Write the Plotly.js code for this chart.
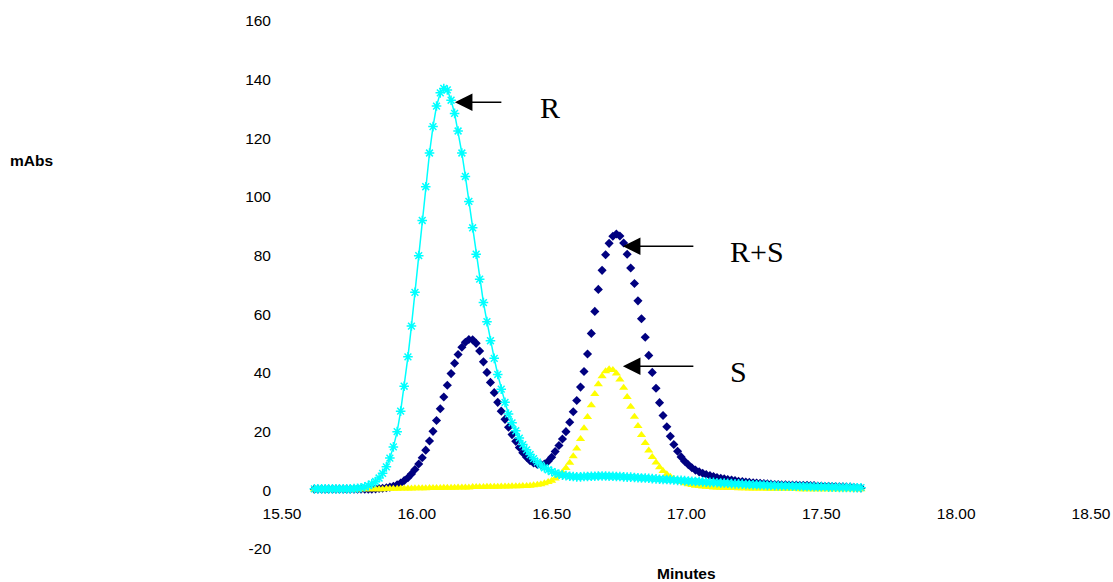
<!DOCTYPE html>
<html>
<head>
<meta charset="utf-8">
<script src="https://cdn.plot.ly/plotly-3.0.1.min.js"></script>
<style>html,body{margin:0;padding:0;background:#fff;}#chart{width:1113px;height:582px;}</style>
</head>
<body>
<div id="chart"></div>
<script>
// Retention time (minutes)
const minutes = [
15.620,15.633,15.647,15.660,15.673,15.687,15.700,15.713,15.727,15.740,
15.753,15.767,15.780,15.793,15.807,15.820,15.833,15.847,15.860,15.873,
15.887,15.900,15.913,15.927,15.940,15.953,15.967,15.980,15.993,16.007,
16.020,16.033,16.047,16.060,16.073,16.087,16.100,16.113,16.127,16.140,
16.153,16.167,16.180,16.193,16.207,16.220,16.233,16.247,16.260,16.273,
16.287,16.300,16.313,16.327,16.340,16.353,16.367,16.380,16.393,16.407,
16.420,16.433,16.447,16.460,16.473,16.487,16.500,16.513,16.527,16.540,
16.553,16.567,16.580,16.593,16.607,16.620,16.633,16.647,16.660,16.673,
16.687,16.700,16.713,16.727,16.740,16.753,16.767,16.780,16.793,16.807,
16.820,16.833,16.847,16.860,16.873,16.887,16.900,16.913,16.927,16.940,
16.953,16.967,16.980,16.993,17.007,17.020,17.033,17.047,17.060,17.073,
17.087,17.100,17.113,17.127,17.140,17.153,17.167,17.180,17.193,17.207,
17.220,17.233,17.247,17.260,17.273,17.287,17.300,17.313,17.327,17.340,
17.353,17.367,17.380,17.393,17.407,17.420,17.433,17.447,17.460,17.473,
17.487,17.500,17.513,17.527,17.540,17.553,17.567,17.580,17.593,17.607,
17.620,17.633,17.647
];

// R enantiomer (mAbs)
const seriesR = [
0.5,0.5,0.5,0.5,0.5,0.5,0.5,0.5,0.5,0.5,
0.5,0.6,0.7,0.9,1.2,1.6,2.2,3.0,4.2,5.8,
8.0,11.0,14.8,20.0,27.0,35.5,45.5,56.0,67.5,80.0,
92.0,103.5,115.0,124.0,131.0,135.5,137.0,136.5,133.0,128.5,
122.5,115.0,107.0,98.5,89.5,80.5,72.0,64.0,57.5,51.0,
45.0,39.5,34.5,30.0,26.0,23.0,20.3,17.8,15.6,13.8,
12.2,10.8,9.6,8.6,7.7,7.0,6.4,5.9,5.5,5.2,
5.0,4.8,4.7,4.6,4.6,4.7,4.7,4.8,4.8,4.9,
4.9,4.9,4.8,4.8,4.7,4.7,4.6,4.5,4.5,4.4,
4.3,4.2,4.2,4.1,4.0,3.9,3.8,3.7,3.7,3.6,
3.5,3.4,3.4,3.3,3.2,3.1,3.0,3.0,2.9,2.8,
2.7,2.7,2.6,2.5,2.5,2.4,2.3,2.2,2.2,2.1,
2.0,2.0,1.9,1.9,1.8,1.8,1.7,1.7,1.6,1.6,
1.5,1.5,1.5,1.4,1.4,1.4,1.3,1.3,1.3,1.2,
1.2,1.2,1.2,1.1,1.1,1.1,1.0,1.0,1.0,1.0,
0.9,0.9,0.9
];

// R+S mixture (mAbs)
const seriesRS = [
0.4,0.4,0.4,0.4,0.4,0.4,0.4,0.4,0.4,0.4,
0.4,0.4,0.4,0.4,0.4,0.4,0.4,0.5,0.6,0.7,
0.9,1.1,1.4,1.9,2.5,3.3,4.3,5.6,7.1,9.0,
11.1,13.7,16.8,20.1,23.8,27.8,31.8,35.8,39.8,43.3,
46.3,48.8,50.5,51.4,51.3,50.1,47.5,43.8,40.2,36.8,
33.3,30.0,27.0,24.2,21.5,19.0,16.7,14.6,12.8,11.3,
10.1,9.3,8.8,8.7,9.0,9.9,11.3,13.2,15.3,17.5,
20.0,23.2,26.8,30.6,35.2,40.5,46.5,53.5,61.0,68.5,
75.0,80.3,84.2,86.6,87.4,86.7,84.3,80.5,75.8,70.5,
64.6,58.5,52.2,46.0,40.2,34.8,29.9,25.5,21.7,18.4,
15.6,13.3,11.4,9.9,8.7,7.7,6.9,6.3,5.8,5.4,
5.0,4.7,4.4,4.1,3.9,3.7,3.5,3.3,3.1,3.0,
2.8,2.7,2.6,2.5,2.4,2.3,2.2,2.1,2.0,2.0,
1.9,1.9,1.8,1.8,1.8,1.7,1.7,1.7,1.6,1.6,
1.5,1.5,1.4,1.4,1.3,1.3,1.2,1.2,1.1,1.1,
1.0,0.9,0.8
];

// S enantiomer (mAbs)
const seriesS = [
0.3,0.3,0.3,0.3,0.3,0.3,0.3,0.3,0.3,0.3,
0.3,0.3,0.3,0.4,0.4,0.4,0.4,0.4,0.4,0.4,
0.5,0.5,0.5,0.5,0.6,0.6,0.6,0.6,0.7,0.7,
0.7,0.7,0.8,0.8,0.8,0.8,0.9,0.9,0.9,0.9,
1.0,1.0,1.0,1.0,1.1,1.1,1.1,1.1,1.2,1.2,
1.2,1.2,1.3,1.3,1.3,1.4,1.4,1.4,1.5,1.5,
1.6,1.7,1.9,2.1,2.4,2.8,3.3,4.0,4.9,6.1,
7.6,9.4,11.6,14.3,17.5,21.2,25.0,29.0,32.8,36.2,
38.9,40.6,41.3,41.0,39.8,37.8,35.0,31.8,28.5,25.1,
21.9,18.9,16.1,13.6,11.4,9.5,7.9,6.6,5.5,4.6,
3.9,3.3,2.8,2.4,2.1,1.8,1.6,1.5,1.3,1.2,
1.1,1.0,1.0,0.9,0.9,0.8,0.8,0.8,0.7,0.7,
0.7,0.6,0.6,0.6,0.6,0.6,0.5,0.5,0.5,0.5,
0.5,0.5,0.5,0.5,0.5,0.4,0.4,0.4,0.4,0.4,
0.4,0.4,0.4,0.4,0.4,0.4,0.4,0.4,0.4,0.4,
0.4,0.4,0.4
];

const xTickVals = [15.5,16.0,16.5,17.0,17.5,18.0,18.5];
const xTickText = ['15.50','16.00','16.50','17.00','17.50','18.00','18.50'];
const yTickVals = [-20,0,20,40,60,80,100,120,140,160];
const yTickText = ['-20','0','20','40','60','80','100','120','140','160'];

// Peak labels
const peakLabels = ['R','R+S','S'];

const sans = 'Liberation Sans, Arial, sans-serif';
const serif = 'Liberation Serif, Times New Roman, serif';

const traces = [
  {x: minutes, y: seriesRS, type:'scatter', mode:'markers', name:'R+S',
   marker:{symbol:'diamond', size:7, color:'#000080'}, hoverinfo:'skip'},
  {x: minutes, y: seriesS, type:'scatter', mode:'markers', name:'S',
   marker:{symbol:'triangle-up', size:8, color:'#FFFF00'}, hoverinfo:'skip'},
  {x: minutes, y: seriesR, type:'scatter', mode:'lines+markers', name:'R',
   line:{color:'#00FFFF', width:1.5},
   marker:{symbol:'asterisk-open', size:8, color:'#00FFFF', line:{color:'#00FFFF', width:1.5}}, hoverinfo:'skip'}
];

function arrow(xTip, yTip, xTail, yTail){
  return {x:xTip, y:yTip, ax:xTail, ay:yTail, xref:'x', yref:'y', axref:'x', ayref:'y',
          text:'', showarrow:true, arrowhead:2, arrowsize:2.2, arrowwidth:1.6, arrowcolor:'#000',
          standoff:0, startstandoff:0};
}
function label(txt, xv, yv){
  return {x:xv, y:yv, xref:'x', yref:'y', text:txt, showarrow:false, xanchor:'left', yanchor:'middle',
          font:{family:serif, size:30, color:'#000'}};
}

const layout = {
  width:1113, height:582,
  margin:{l:282, r:22, t:21, b:33, pad:0},
  paper_bgcolor:'#fff', plot_bgcolor:'#fff',
  showlegend:false,
  font:{family:sans, size:15.5, color:'#000'},
  xaxis:{range:[15.5,18.5], tickvals:xTickVals, ticktext:xTickText,
         showgrid:false, zeroline:false, showline:false, ticks:'',
         anchor:'free', position:20/180, ticklabelstandoff:12,
         tickfont:{family:sans, size:15.5, color:'#000'}},
  yaxis:{range:[-20,160], tickvals:yTickVals, ticktext:yTickText,
         showgrid:false, zeroline:false, showline:false, ticks:'',
         ticklabelstandoff:10,
         tickfont:{family:sans, size:15.5, color:'#000'}},
  annotations:[
    arrow(16.141,132.3,16.319,132.3),
    arrow(16.764,83.2,17.031,83.2),
    arrow(16.764,42.3,17.031,42.3),
    label(peakLabels[0],16.449,130.6),
    label(peakLabels[1],17.154,81.5),
    label(peakLabels[2],17.154,40.6),
    {xref:'paper', yref:'paper', x:(8-282)/809, y:(549-160)/528, xanchor:'left', yanchor:'middle',
     text:'<b>mAbs</b>', showarrow:false, font:{family:sans, size:15.5, color:'#000'}},
    {xref:'paper', yref:'paper', x:0.5006, y:-24/528, xanchor:'center', yanchor:'middle',
     text:'<b>Minutes</b>', showarrow:false, font:{family:sans, size:15.5, color:'#000'}}
  ]
};

Plotly.newPlot('chart', traces, layout, {staticPlot:true, displayModeBar:false});
</script>
</body>
</html>
